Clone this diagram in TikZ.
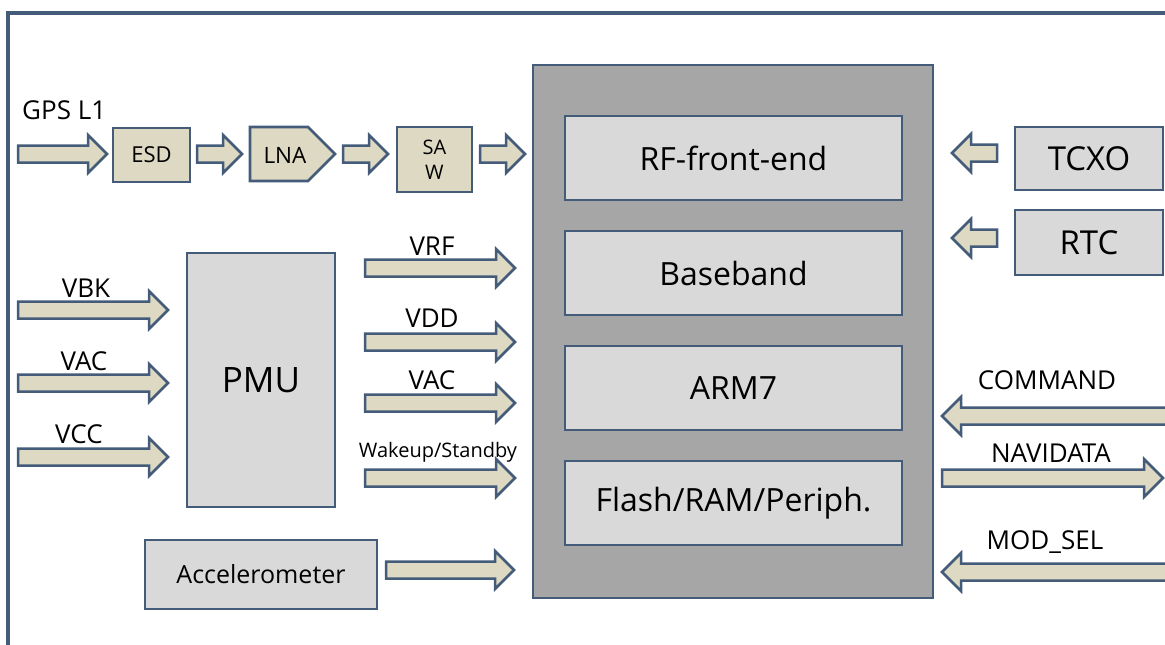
\documentclass[tikz,border=0pt]{standalone}
\usepackage{fontspec}
\setmainfont{Open Sans}
\definecolor{edge}{RGB}{68,92,122}
\definecolor{beige}{RGB}{221,217,195}
\definecolor{lgray}{RGB}{217,217,217}
\definecolor{mgray}{RGB}{166,166,166}
\tikzset{
  box/.style={draw=edge, line width=2.8pt, fill=lgray},
  bbox/.style={draw=edge, line width=2.8pt, fill=beige},
  barrow/.style={draw=edge, line width=2.5pt, fill=beige, line join=miter},
  lbl/.style={inner sep=0pt, font=\fontsize{26}{28}\selectfont},
  inner/.style={box, minimum width=337pt, minimum height=84pt, font=\fontsize{32}{34}\selectfont},
}
% right-pointing block arrow: name, x-start, x-tip, y
\newcommand\rarr[4]{%
  \coordinate (#1-s) at (#2,#4); \coordinate (#1-t) at (#3,#4);
  \draw[barrow] (#2,#4-8.5) -- (#3-19,#4-8.5) -- (#3-19,#4-19) -- (#3,#4)
    -- (#3-19,#4+19) -- (#3-19,#4+8.5) -- (#2,#4+8.5) -- cycle;}
% left-pointing block arrow: name, x-start (right), x-tip (left), y
\newcommand\larr[4]{%
  \coordinate (#1-s) at (#2,#4); \coordinate (#1-t) at (#3,#4);
  \draw[barrow] (#2,#4-8.5) -- (#3+19,#4-8.5) -- (#3+19,#4-19) -- (#3,#4)
    -- (#3+19,#4+19) -- (#3+19,#4+8.5) -- (#2,#4+8.5) -- cycle;}
\begin{document}
\begin{tikzpicture}[x=1pt,y=-1pt]
\useasboundingbox (0,0) rectangle (1165,645);
\fill[white] (0,0) rectangle (1165,645);
% outer frame
\draw[edge, line width=3.5pt] (1170,13) -- (8,13) -- (8,650);

% main chip
\draw[box, fill=mgray] (533,65) rectangle (933,598);
\node[inner] (rf) at (733.5,158) {RF-front-end};
\node[inner] (bb) at (733.5,273) {Baseband};
\node[inner] (arm) at (733.5,388) {ARM7};
\node[inner] (fl) at (733.5,503) {Flash/RAM/Periph.};

% GPS chain
\node[lbl, anchor=west] (gps) at (22,110) {GPS L1};
\rarr{a1}{18}{107}{154}
\node[bbox, minimum width=77pt, minimum height=54pt, inner sep=0pt, font=\fontsize{22}{24}\selectfont] (esd) at (151.5,155) {ESD};
\rarr{a2}{197}{242}{154}
\draw[bbox] (250,127) -- (308,127) -- (335,154) -- (308,181) -- (250,181) -- cycle;
\node[inner sep=0pt, font=\fontsize{22.5}{24}\selectfont] (lna) at (285,155) {LNA};
\rarr{a3}{343}{388}{154}
\node[bbox, minimum width=75pt, minimum height=65pt, inner sep=0pt, align=center, font=\fontsize{20}{25}\selectfont] (saw) at (434.5,159.5) {SA\\W};
\rarr{a4}{480}{525}{154}

% PMU
\node[box, minimum width=148pt, minimum height=254pt, font=\fontsize{35}{38}\selectfont] (pmu) at (261,380) {PMU};
\node[lbl] (vbk) at (86,288) {VBK};
\rarr{vbka}{18}{168}{310}
\node[lbl] (vac1) at (84,361) {VAC};
\rarr{vac1a}{18}{168}{383}
\node[lbl] (vcc) at (79,434) {VCC};
\rarr{vcca}{18}{168}{457}

\node[lbl] (vrf) at (432,246) {VRF};
\rarr{vrfa}{365}{515}{268}
\node[lbl] (vdd) at (432,318) {VDD};
\rarr{vdda}{365}{515}{342}
\node[lbl] (vac2) at (432,380) {VAC};
\rarr{vac2a}{365}{515}{403}
\node[inner sep=0pt, font=\fontsize{20}{22}\selectfont] (wk) at (438,452) {Wakeup/Standby};
\rarr{wka}{365}{515}{478}

% Accelerometer
\node[box, minimum width=232pt, minimum height=69pt, font=\fontsize{25}{28}\selectfont] (acc) at (261,574.5) {Accelerometer};
\rarr{acca}{386}{514}{570}

% TCXO / RTC
\node[box, minimum width=148pt, minimum height=63pt, font=\fontsize{33}{35}\selectfont] (tcxo) at (1089,158.5) {TCXO};
\larr{tcxoa}{997}{952}{153}
\node[box, minimum width=148pt, minimum height=65pt, font=\fontsize{33}{35}\selectfont] (rtc) at (1089,242.5) {RTC};
\larr{rtca}{997}{952}{238}

% right side signals
\node[lbl] (cmd) at (1047,380) {COMMAND};
\larr{cmda}{1168}{942}{416}
\node[lbl] (nav) at (1051,453) {NAVIDATA};
\rarr{nava}{942}{1163}{478}
\node[lbl] (mod) at (1045,542) {MOD\_SEL};
\larr{moda}{1168}{942}{572}
\end{tikzpicture}
\end{document}
